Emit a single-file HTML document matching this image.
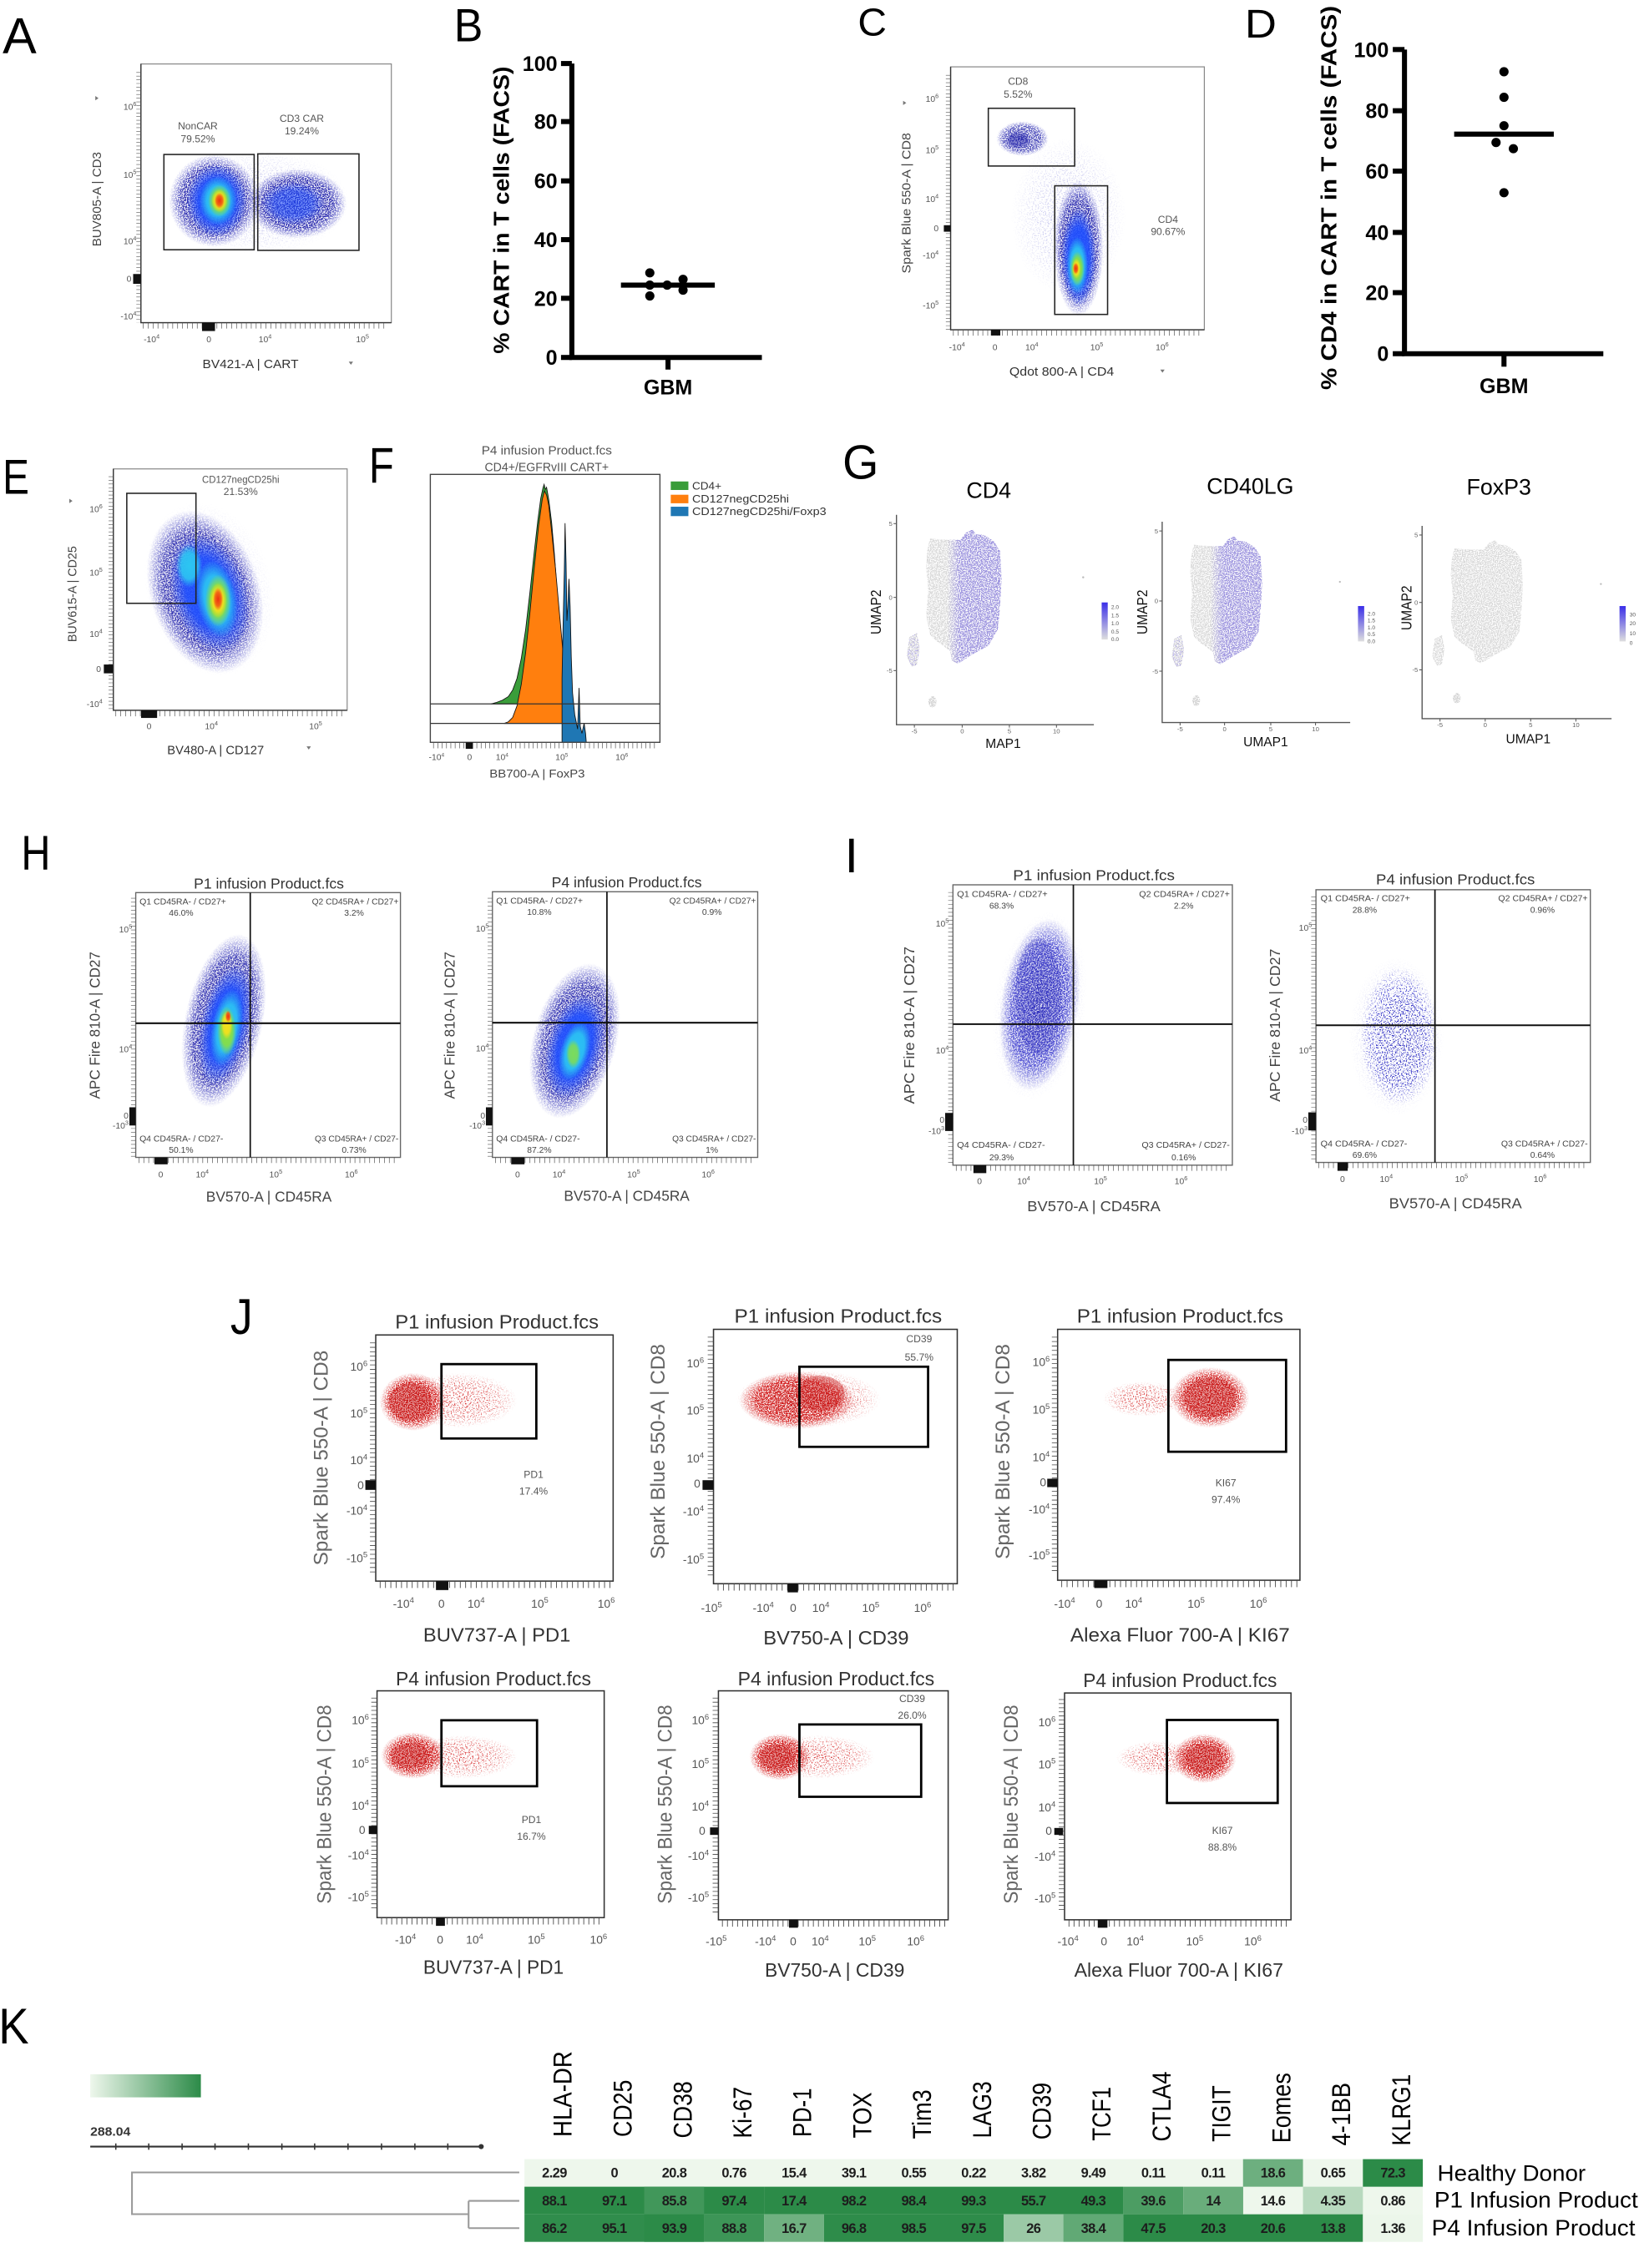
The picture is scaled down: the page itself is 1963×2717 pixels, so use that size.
<!DOCTYPE html>
<html><head><meta charset="utf-8"><title>Figure</title>
<style>
html,body{margin:0;padding:0;background:#fff;width:1963px;height:2717px;overflow:hidden}
svg{display:block}
text{font-family:"Liberation Sans",Arial,Helvetica,sans-serif}
.m{text-anchor:middle}.e{text-anchor:end}
.t{font-size:6px;fill:#555}
.t8{font-size:8px;fill:#555}
.gt{font-size:7px;fill:#555}
.q{font-size:6px;fill:#444}
.bd{font-weight:bold}
.ttl{font-size:10.4px;fill:#333}
.jt{font-size:13.5px;fill:#333}
.ax{font-size:10px;fill:#444}
.ayt{font-size:14px;fill:#666}
.ut{font-size:4.5px;fill:#666}
.cv{font-size:9.5px;font-weight:bold;fill:#1d1d1d;text-anchor:middle;letter-spacing:-0.35px}
.ch{font-size:18px;fill:#000}
</style></head><body>
<svg xmlns="http://www.w3.org/2000/svg" xmlns:xlink="http://www.w3.org/1999/xlink" width="1963" height="2717" viewBox="0 0 1135 1571" preserveAspectRatio="none">
<defs>
<filter id="sp" x="-10%" y="-10%" width="120%" height="120%" color-interpolation-filters="sRGB">
<feTurbulence type="fractalNoise" baseFrequency="1.3" numOctaves="1" seed="4" result="n"/>
<feColorMatrix in="n" type="matrix" values="0 0 0 0 0  0 0 0 0 0  0 0 0 0 0  0 0 0 8 -3.4" result="k"/>
<feComposite in="SourceGraphic" in2="k" operator="in"/>
</filter>
<filter id="sp2" x="-10%" y="-10%" width="120%" height="120%" color-interpolation-filters="sRGB">
<feTurbulence type="fractalNoise" baseFrequency="1.2" numOctaves="1" seed="9" result="n"/>
<feColorMatrix in="n" type="matrix" values="0 0 0 0 0  0 0 0 0 0  0 0 0 0 0  0 0 0 8 -4.3" result="k"/>
<feComposite in="SourceGraphic" in2="k" operator="in"/>
</filter>
<radialGradient id="gDB"><stop offset="0" stop-color="#1a1aa6"/><stop offset="0.72" stop-color="#1c1ca8" stop-opacity="0.9"/><stop offset="1" stop-color="#2a2ac0" stop-opacity="0"/></radialGradient>
<radialGradient id="gB"><stop offset="0" stop-color="#1f4fff"/><stop offset="0.6" stop-color="#1f4fff" stop-opacity="0.9"/><stop offset="1" stop-color="#1f4fff" stop-opacity="0"/></radialGradient>
<radialGradient id="gC"><stop offset="0" stop-color="#2cc6f2"/><stop offset="0.6" stop-color="#2cc6f2" stop-opacity="0.9"/><stop offset="1" stop-color="#2cc6f2" stop-opacity="0"/></radialGradient>
<radialGradient id="gG"><stop offset="0" stop-color="#8ae040"/><stop offset="0.6" stop-color="#8ae040" stop-opacity="0.9"/><stop offset="1" stop-color="#8ae040" stop-opacity="0"/></radialGradient>
<radialGradient id="gY"><stop offset="0" stop-color="#f6e01c"/><stop offset="0.6" stop-color="#f6e01c" stop-opacity="0.9"/><stop offset="1" stop-color="#f6e01c" stop-opacity="0"/></radialGradient>
<radialGradient id="gR"><stop offset="0" stop-color="#ee3010"/><stop offset="0.6" stop-color="#f25a14" stop-opacity="0.9"/><stop offset="1" stop-color="#f25a14" stop-opacity="0"/></radialGradient>
<radialGradient id="gRed"><stop offset="0" stop-color="#c81414"/><stop offset="0.7" stop-color="#d21c1c"/><stop offset="1" stop-color="#d82828" stop-opacity="0"/></radialGradient>
<radialGradient id="gPB"><stop offset="0" stop-color="#2424b8"/><stop offset="0.7" stop-color="#3434cc" stop-opacity="0.9"/><stop offset="1" stop-color="#3434cc" stop-opacity="0"/></radialGradient>
<radialGradient id="gSB"><stop offset="0" stop-color="#3030c0" stop-opacity="0.8"/><stop offset="0.65" stop-color="#3030c0" stop-opacity="0.35"/><stop offset="1" stop-color="#3030c0" stop-opacity="0"/></radialGradient>
<radialGradient id="gSR"><stop offset="0" stop-color="#d42020" stop-opacity="0.95"/><stop offset="0.65" stop-color="#d42020" stop-opacity="0.6"/><stop offset="1" stop-color="#d42020" stop-opacity="0"/></radialGradient>
<linearGradient id="lgP" x1="0" y1="0" x2="1" y2="0"><stop offset="0" stop-color="#6a5ae6" stop-opacity="0"/><stop offset="0.22" stop-color="#6a5ae6"/><stop offset="1" stop-color="#6a5ae6"/></linearGradient>
<linearGradient id="lgCB" x1="0" y1="0" x2="0" y2="1"><stop offset="0" stop-color="#3a2ee8"/><stop offset="1" stop-color="#dedede"/></linearGradient>
<linearGradient id="lgK" x1="0" y1="0" x2="1" y2="0"><stop offset="0" stop-color="#eef7ec"/><stop offset="1" stop-color="#2c8b48"/></linearGradient>
<path id="blob" d="M643.9,373 L654.5,373.9 665.2,373.9 668.8,369.1 673.4,366.6 675.9,370.1 681.2,370.5 688.3,374.9 692.5,381.6 693.6,400.9 692.5,420.2 691.1,435.6 684.7,447.1 674.1,452.9 663.4,459.7 659.2,457.7 658.1,451 652.8,447.1 647.4,443.3 643.9,439.4 641.4,426 642.8,408.6 641.4,393.2 642.1,381.6Z M629.7,441.4 L635,438.5 636.8,449.1 635,460.6 631.5,461.6 627.9,454.9Z"/>
<clipPath id="cb" clipPathUnits="userSpaceOnUse"><use xlink:href="#blob"/></clipPath>
<g id="um1">
<use xlink:href="#blob" fill="#cfcfcf" filter="url(#sp)" opacity="0.8"/>
<ellipse cx="645.7" cy="486.1" rx="2.8" ry="3.9" fill="#cfcfcf" filter="url(#sp)"/>
<circle cx="750.1" cy="399.9" r="0.7" fill="#bbb"/>
</g>
<g id="pur" clip-path="url(#cb)">
<rect x="656" y="362" width="40" height="100" fill="url(#lgP)" filter="url(#sp)" opacity="0.55"/>
<rect x="626" y="436" width="12" height="28" fill="#7a6ae8" filter="url(#sp2)" opacity="0.5"/>
</g>
</defs>
<rect width="1135" height="1571" fill="#fff"/>

<!-- ================= A ================= -->
<text x="1.8" y="36.6" font-size="35" textLength="23.5" lengthAdjust="spacingAndGlyphs">A</text>
<g>
<ellipse cx="180" cy="140" rx="62" ry="36" fill="url(#gSB)" opacity="0.5" filter="url(#sp2)"/>
<ellipse cx="206" cy="141" rx="34" ry="24" fill="url(#gDB)" filter="url(#sp)"/>
<ellipse cx="203" cy="141" rx="22" ry="15" fill="url(#gB)" opacity="0.6"/>
<ellipse cx="148" cy="139" rx="31" ry="32" fill="url(#gDB)" filter="url(#sp)"/>
<ellipse cx="150" cy="139" rx="21" ry="25" fill="url(#gB)"/>
<ellipse cx="151" cy="139" rx="13" ry="17" fill="url(#gC)"/>
<ellipse cx="152" cy="139" rx="8" ry="11" fill="url(#gG)"/>
<ellipse cx="152" cy="139" rx="5.5" ry="8" fill="url(#gY)"/>
<ellipse cx="152" cy="139" rx="3.5" ry="5.5" fill="url(#gR)"/>
</g>
<rect x="97.6" y="44.3" width="173.4" height="179.2" fill="none" stroke="#888" stroke-width="0.7"/>
<path d="M97.6,44.3 V223.5 H271" fill="none" stroke="#333" stroke-width="0.8"/>
<line x1="96" y1="50" x2="96" y2="223.5" stroke="#555" stroke-width="3.2" stroke-dasharray="0.35 2.2"/>
<line x1="99" y1="225.6" x2="268" y2="225.6" stroke="#555" stroke-width="4" stroke-dasharray="0.4 3"/>
<rect x="92.2" y="189.8" width="5.4" height="6.8" fill="#111"/>
<rect x="139.9" y="223.5" width="9" height="5.8" fill="#111"/>
<rect x="113.5" y="107" width="62.5" height="66" fill="none" stroke="#222" stroke-width="0.9"/>
<rect x="178.5" y="106.6" width="70.1" height="66.8" fill="none" stroke="#222" stroke-width="0.9"/>
<text class="gt m" x="137" y="89.5">NonCAR</text>
<text class="gt m" x="137" y="98.5">79.52%</text>
<text class="gt m" x="209" y="84.5">CD3 CAR</text>
<text class="gt m" x="209" y="93">19.24%</text>
<text class="t e" x="94.5" y="76.1">10<tspan dy="-2.6" font-size="4.2">6</tspan></text>
<text class="t e" x="94.5" y="123.1">10<tspan dy="-2.6" font-size="4.2">5</tspan></text>
<text class="t e" x="94.5" y="169.1">10<tspan dy="-2.6" font-size="4.2">4</tspan></text>
<text class="t e" x="91" y="195.1">0</text>
<text class="t e" x="94.5" y="221.1">-10<tspan dy="-2.6" font-size="4.2">4</tspan></text>
<text class="t m" x="105" y="237.1">-10<tspan dy="-2.6" font-size="4.2">4</tspan></text>
<text class="t m" x="144.6" y="237.1">0</text>
<text class="t m" x="183.6" y="237.1">10<tspan dy="-2.6" font-size="4.2">4</tspan></text>
<text class="t m" x="251" y="237.1">10<tspan dy="-2.6" font-size="4.2">5</tspan></text>
<text class="m" x="173.5" y="255" font-size="8.8" fill="#333" textLength="66.5" lengthAdjust="spacingAndGlyphs">BV421-A | CART</text>
<polygon points="241.5,250.5 244.5,250.5 243,252.7" fill="#777"/>
<text class="m" transform="translate(70,138) rotate(-90)" font-size="8.5" fill="#444" textLength="65.5" lengthAdjust="spacingAndGlyphs">BUV805-A | CD3</text>
<polygon points="66,66.5 66,69.5 68.2,68" fill="#777"/>

<!-- ================= B ================= -->
<text x="314.4" y="28.5" font-size="32" textLength="20" lengthAdjust="spacingAndGlyphs">B</text>
<path d="M396,44 V247.6 H527.6" fill="none" stroke="#000" stroke-width="3.5"/>
<g stroke="#000" stroke-width="3.5">
<line x1="388.5" y1="44" x2="396" y2="44"/><line x1="388.5" y1="84.2" x2="396" y2="84.2"/><line x1="388.5" y1="125.3" x2="396" y2="125.3"/><line x1="388.5" y1="166" x2="396" y2="166"/><line x1="388.5" y1="206.6" x2="396" y2="206.6"/><line x1="388.5" y1="247.6" x2="396" y2="247.6"/>
<line x1="462.6" y1="247.6" x2="462.6" y2="256"/>
<line x1="430" y1="197.5" x2="495" y2="197.5"/>
</g>
<g class="bd" font-size="14.5" text-anchor="end">
<text x="386" y="49.2">100</text><text x="386" y="89.4">80</text><text x="386" y="130.5">60</text><text x="386" y="171.2">40</text><text x="386" y="211.8">20</text><text x="386" y="252.8">0</text>
</g>
<text class="bd m" x="462.6" y="273.2" font-size="14.5">GBM</text>
<text class="bd m" transform="translate(352.4,145.5) rotate(-90)" font-size="15" textLength="199" lengthAdjust="spacingAndGlyphs">% CART in T cells (FACS)</text>
<g fill="#000"><circle cx="450" cy="189" r="3.2"/><circle cx="450" cy="197.5" r="3.2"/><circle cx="450" cy="205" r="3.2"/><circle cx="462" cy="197.5" r="3.2"/><circle cx="473" cy="193.5" r="3.2"/><circle cx="473" cy="201" r="3.2"/></g>

<!-- ================= C ================= -->
<text x="594" y="24.5" font-size="27" textLength="20" lengthAdjust="spacingAndGlyphs">C</text>
<g>
<ellipse cx="740" cy="150" rx="40" ry="55" fill="url(#gSB)" opacity="0.45" filter="url(#sp2)"/>
<ellipse cx="708" cy="96" rx="18" ry="12" fill="url(#gDB)" filter="url(#sp)" opacity="0.85"/>
<ellipse cx="705" cy="97" rx="9" ry="6" fill="url(#gDB)" opacity="0.5"/>
<ellipse cx="747" cy="172" rx="17" ry="47" fill="url(#gDB)" filter="url(#sp)"/>
<ellipse cx="747" cy="178" rx="12" ry="34" fill="url(#gB)"/>
<ellipse cx="746" cy="184" rx="7.5" ry="20" fill="url(#gC)"/>
<ellipse cx="746" cy="186" rx="5" ry="12" fill="url(#gG)"/>
<ellipse cx="745.5" cy="186" rx="3" ry="7" fill="url(#gY)"/>
<ellipse cx="745" cy="186" rx="2" ry="4" fill="url(#gR)"/>
</g>
<rect x="658.3" y="46.3" width="175.7" height="182.1" fill="none" stroke="#888" stroke-width="0.7"/>
<path d="M658.3,46.3 V228.4 H834" fill="none" stroke="#333" stroke-width="0.8"/>
<line x1="656.6" y1="52" x2="656.6" y2="228.4" stroke="#555" stroke-width="3.2" stroke-dasharray="0.35 2.2"/>
<line x1="660" y1="230.5" x2="832" y2="230.5" stroke="#555" stroke-width="4" stroke-dasharray="0.4 3"/>
<rect x="653.6" y="156" width="4.7" height="4.5" fill="#111"/>
<rect x="686.2" y="228.4" width="6.5" height="4" fill="#111"/>
<rect x="684.4" y="75" width="59.8" height="40" fill="none" stroke="#222" stroke-width="0.9"/>
<rect x="730.4" y="128.7" width="36.6" height="89.1" fill="none" stroke="#222" stroke-width="0.9"/>
<text class="gt m" x="705" y="58.8">CD8</text>
<text class="gt m" x="705" y="67.8">5.52%</text>
<text class="gt m" x="808.8" y="154.3">CD4</text>
<text class="gt m" x="808.8" y="162.8">90.67%</text>
<text class="t e" x="650" y="70.5">10<tspan dy="-2.6" font-size="4.2">6</tspan></text>
<text class="t e" x="650" y="106.1">10<tspan dy="-2.6" font-size="4.2">5</tspan></text>
<text class="t e" x="650" y="139.9">10<tspan dy="-2.6" font-size="4.2">4</tspan></text>
<text class="t e" x="650" y="160.1">0</text>
<text class="t e" x="650" y="179.1">-10<tspan dy="-2.6" font-size="4.2">4</tspan></text>
<text class="t e" x="650" y="213.7">-10<tspan dy="-2.6" font-size="4.2">5</tspan></text>
<text class="t m" x="662.7" y="242.6">-10<tspan dy="-2.6" font-size="4.2">4</tspan></text>
<text class="t m" x="689" y="242.6">0</text>
<text class="t m" x="714.5" y="242.6">10<tspan dy="-2.6" font-size="4.2">4</tspan></text>
<text class="t m" x="759.5" y="242.6">10<tspan dy="-2.6" font-size="4.2">5</tspan></text>
<text class="t m" x="804.8" y="242.6">10<tspan dy="-2.6" font-size="4.2">6</tspan></text>
<text class="m" x="735.2" y="260.3" font-size="8.8" fill="#333" textLength="72.5" lengthAdjust="spacingAndGlyphs">Qdot 800-A | CD4</text>
<polygon points="803.5,256 806.5,256 805,258.2" fill="#777"/>
<text class="m" transform="translate(630.5,140.7) rotate(-90)" font-size="8.5" fill="#444" textLength="97.3" lengthAdjust="spacingAndGlyphs">Spark Blue 550-A | CD8</text>
<polygon points="625.4,69.8 625.4,72.8 627.6,71.3" fill="#777"/>

<!-- ================= D ================= -->
<text x="862" y="26" font-size="28" textLength="22" lengthAdjust="spacingAndGlyphs">D</text>
<path d="M972.6,34.3 V245 H1110.3" fill="none" stroke="#000" stroke-width="3.5"/>
<g stroke="#000" stroke-width="3.5">
<line x1="964.5" y1="34.3" x2="972.6" y2="34.3"/><line x1="964.5" y1="76.7" x2="972.6" y2="76.7"/><line x1="964.5" y1="118.5" x2="972.6" y2="118.5"/><line x1="964.5" y1="161" x2="972.6" y2="161"/><line x1="964.5" y1="202.7" x2="972.6" y2="202.7"/><line x1="964.5" y1="245" x2="972.6" y2="245"/>
<line x1="1041.5" y1="245" x2="1041.5" y2="254"/>
<line x1="1007" y1="92.9" x2="1076" y2="92.9"/>
</g>
<g class="bd" font-size="14.5" text-anchor="end">
<text x="961.7" y="39.5">100</text><text x="961.7" y="81.9">80</text><text x="961.7" y="123.7">60</text><text x="961.7" y="166.2">40</text><text x="961.7" y="207.9">20</text><text x="961.7" y="250.2">0</text>
</g>
<text class="bd m" x="1041.5" y="272.2" font-size="14.5">GBM</text>
<text class="bd m" transform="translate(925.4,137) rotate(-90)" font-size="15" textLength="266" lengthAdjust="spacingAndGlyphs">% CD4 in CART in T cells (FACS)</text>
<g fill="#000"><circle cx="1041.5" cy="49.7" r="3.2"/><circle cx="1041.5" cy="67.4" r="3.2"/><circle cx="1041.5" cy="87.1" r="3.2"/><circle cx="1036" cy="98.7" r="3.2"/><circle cx="1048" cy="103" r="3.2"/><circle cx="1041.5" cy="133.5" r="3.2"/></g>

<!-- ================= E ================= -->
<text x="1.8" y="342.1" font-size="34" textLength="18.4" lengthAdjust="spacingAndGlyphs">E</text>
<g>
<ellipse cx="145" cy="408" rx="44" ry="62" transform="rotate(-15 145 408)" fill="url(#gSB)" opacity="0.4" filter="url(#sp2)"/>
<ellipse cx="142" cy="410" rx="38" ry="58" transform="rotate(-18 142 410)" fill="url(#gDB)" filter="url(#sp)"/>
<ellipse cx="145" cy="411" rx="26" ry="42" transform="rotate(-18 145 411)" fill="url(#gB)"/>
<ellipse cx="131" cy="392" rx="9" ry="15" fill="url(#gC)"/>
<ellipse cx="150" cy="415" rx="14" ry="27" transform="rotate(-10 150 415)" fill="url(#gC)"/>
<ellipse cx="151" cy="416" rx="9" ry="18" fill="url(#gG)"/>
<ellipse cx="151" cy="416" rx="6" ry="12" fill="url(#gY)"/>
<ellipse cx="151" cy="415" rx="3.5" ry="8" fill="url(#gR)"/>
</g>
<rect x="78.5" y="324.8" width="161.9" height="167.2" fill="none" stroke="#888" stroke-width="0.7"/>
<path d="M78.5,324.8 V492 H240.4" fill="none" stroke="#333" stroke-width="0.8"/>
<line x1="76.8" y1="330" x2="76.8" y2="492" stroke="#555" stroke-width="3.2" stroke-dasharray="0.35 2.2"/>
<line x1="80" y1="494.2" x2="238" y2="494.2" stroke="#555" stroke-width="4" stroke-dasharray="0.4 3"/>
<rect x="71.9" y="460.3" width="6.3" height="6.1" fill="#111"/>
<rect x="97.7" y="492" width="11.1" height="5.3" fill="#111"/>
<rect x="87.8" y="341.7" width="47.9" height="76.2" fill="none" stroke="#222" stroke-width="0.9"/>
<text class="gt m" x="166.7" y="334.4" textLength="53.5" lengthAdjust="spacingAndGlyphs">CD127negCD25hi</text>
<text class="gt m" x="166.7" y="342.9">21.53%</text>
<text class="t e" x="71" y="354.8">10<tspan dy="-2.6" font-size="4.2">6</tspan></text>
<text class="t e" x="71" y="398.6">10<tspan dy="-2.6" font-size="4.2">5</tspan></text>
<text class="t e" x="71" y="441.1">10<tspan dy="-2.6" font-size="4.2">4</tspan></text>
<text class="t e" x="70" y="465.6">0</text>
<text class="t e" x="71" y="489.7">-10<tspan dy="-2.6" font-size="4.2">4</tspan></text>
<text class="t m" x="103.2" y="505.1">0</text>
<text class="t m" x="146.4" y="505.1">10<tspan dy="-2.6" font-size="4.2">4</tspan></text>
<text class="t m" x="218.6" y="505.1">10<tspan dy="-2.6" font-size="4.2">5</tspan></text>
<text class="m" x="149.3" y="522.4" font-size="8.8" fill="#333" textLength="67" lengthAdjust="spacingAndGlyphs">BV480-A | CD127</text>
<polygon points="212.3,517 215.3,517 213.8,519.2" fill="#777"/>
<text class="m" transform="translate(52.8,411.5) rotate(-90)" font-size="8.5" fill="#444" textLength="66.5" lengthAdjust="spacingAndGlyphs">BUV615-A | CD25</text>
<polygon points="48,345.5 48,348.5 50.2,347" fill="#777"/>

<!-- ================= F ================= -->
<text x="255.5" y="334.5" font-size="35" textLength="17.3" lengthAdjust="spacingAndGlyphs">F</text>
<text class="m" x="378.6" y="314.8" font-size="8.8" fill="#555" textLength="90.3" lengthAdjust="spacingAndGlyphs">P4 infusion Product.fcs</text>
<text class="m" x="378.6" y="326.3" font-size="8.8" fill="#555" textLength="85.9" lengthAdjust="spacingAndGlyphs">CD4+/EGFRvIII CART+</text>
<path d="M340,487.6 L344,486.5 348,485 352,482.5 355,478 358,470 361,456 364,436 367,410 370,382 372.5,360 374.5,345 376,338 376.8,335.5 377.6,339 378.5,337.5 380,346 382,362 384,385 386.5,420 389,460 390,487.6 Z" fill="#3a9d3a" stroke="#111" stroke-width="0.5"/>
<path d="M349,501.1 L352,500 355,497 358,489 361,474 364,452 367,424 370,393 373,364 375.5,346 377,340 378.5,343 380,350 382,368 384.5,392 387,420 389.7,450 389.7,501.1 Z" fill="#ff7f0e" stroke="#111" stroke-width="0.5"/>
<path d="M389.2,514.2 L389.2,470 390,430 390.8,395 391.3,362.4 392,390 392.6,430 393.2,420 394,401 394.8,420 395.6,455 396.5,480 398,495 400,505 401,476.5 401.8,503 403,508 404.5,501 405.5,508 406,514.2 Z" fill="#1f77b4" stroke="#111" stroke-width="0.5"/>
<rect x="298" y="328.6" width="159" height="185.6" fill="none" stroke="#444" stroke-width="0.8"/>
<line x1="298" y1="487.6" x2="457" y2="487.6" stroke="#333" stroke-width="0.7"/>
<line x1="298" y1="501.1" x2="457" y2="501.1" stroke="#333" stroke-width="0.7"/>
<line x1="300" y1="516.4" x2="455" y2="516.4" stroke="#555" stroke-width="4" stroke-dasharray="0.4 2.6"/>
<rect x="322.5" y="514.2" width="5" height="4.5" fill="#111"/>
<rect x="464.5" y="333.5" width="12.2" height="5.9" fill="#3a9d3a"/>
<rect x="464.5" y="342.7" width="12.2" height="5.9" fill="#ff7f0e"/>
<rect x="464.5" y="351" width="12.2" height="6.5" fill="#1f77b4"/>
<text x="479.3" y="339" font-size="7.5" fill="#333" textLength="20.3" lengthAdjust="spacingAndGlyphs">CD4+</text>
<text x="479.3" y="348" font-size="7.5" fill="#333" textLength="67.1" lengthAdjust="spacingAndGlyphs">CD127negCD25hi</text>
<text x="479.3" y="356.7" font-size="7.5" fill="#333" textLength="92.9" lengthAdjust="spacingAndGlyphs">CD127negCD25hi/Foxp3</text>
<g class="t" font-size="5.5" text-anchor="middle">
<text x="302.3" y="526.5">-10<tspan dy="-2.4" font-size="3.8">4</tspan></text>
<text x="325.2" y="526.5">0</text>
<text x="347.7" y="526.5">10<tspan dy="-2.4" font-size="3.8">4</tspan></text>
<text x="389" y="526.5">10<tspan dy="-2.4" font-size="3.8">5</tspan></text>
<text x="430.6" y="526.5">10<tspan dy="-2.4" font-size="3.8">6</tspan></text>
</g>
<text class="m" x="372" y="538.5" font-size="8" fill="#444" textLength="66" lengthAdjust="spacingAndGlyphs">BB700-A | FoxP3</text>

<!-- ================= G ================= -->
<text x="583.5" y="331.5" font-size="33" textLength="25" lengthAdjust="spacingAndGlyphs">G</text>
<text class="m" x="684.7" y="344.8" font-size="15.5">CD4</text>
<text class="m" x="865.8" y="341.9" font-size="15.5">CD40LG</text>
<text class="m" x="1038" y="342.5" font-size="15.5">FoxP3</text>
<!-- plot 1 -->
<use xlink:href="#um1"/>
<use xlink:href="#pur"/>
<path d="M620.8,356.6 V502 H757.5" fill="none" stroke="#555" stroke-width="0.8"/>
<g stroke="#555" stroke-width="0.6"><line x1="618.8" y1="362.7" x2="620.8" y2="362.7"/><line x1="618.8" y1="413.8" x2="620.8" y2="413.8"/><line x1="618.8" y1="464.5" x2="620.8" y2="464.5"/><line x1="633.2" y1="502" x2="633.2" y2="504"/><line x1="666.3" y1="502" x2="666.3" y2="504"/><line x1="699" y1="502" x2="699" y2="504"/><line x1="731.6" y1="502" x2="731.6" y2="504"/></g>
<text class="ut e" x="618" y="364.3">5</text><text class="ut e" x="618" y="415.4">0</text><text class="ut e" x="618" y="466.1">-5</text>
<text class="ut m" x="633.2" y="508">-5</text><text class="ut m" x="666.3" y="508">0</text><text class="ut m" x="699" y="508">5</text><text class="ut m" x="731.6" y="508">10</text>
<text class="m" x="694.7" y="518.2" font-size="9" fill="#111">MAP1</text>
<text class="m" transform="translate(610,424) rotate(-90)" font-size="10" fill="#111" textLength="31" lengthAdjust="spacingAndGlyphs">UMAP2</text>
<rect x="762.9" y="417.3" width="4.2" height="25.7" fill="url(#lgCB)"/>
<g font-size="3.8" fill="#555"><text x="769.5" y="421.9">2.0</text><text x="769.5" y="427.6">1.5</text><text x="769.5" y="433">1.0</text><text x="769.5" y="438.8">0.5</text><text x="769.5" y="444.2">0.0</text></g>
<!-- plot 2 -->
<use xlink:href="#um1" transform="translate(848,416.3) scale(0.953,0.954) translate(-666.3,-413.8)"/>
<use xlink:href="#pur" transform="translate(848,416.3) scale(0.953,0.954) translate(-666.3,-413.8)"/>
<path d="M804.8,361.4 V500.5 H935" fill="none" stroke="#555" stroke-width="0.8"/>
<g stroke="#555" stroke-width="0.6"><line x1="802.8" y1="367.8" x2="804.8" y2="367.8"/><line x1="802.8" y1="416.3" x2="804.8" y2="416.3"/><line x1="802.8" y1="464.9" x2="804.8" y2="464.9"/><line x1="817.2" y1="500.5" x2="817.2" y2="502.5"/><line x1="848" y1="500.5" x2="848" y2="502.5"/><line x1="880" y1="500.5" x2="880" y2="502.5"/><line x1="911" y1="500.5" x2="911" y2="502.5"/></g>
<text class="ut e" x="802" y="369.4">5</text><text class="ut e" x="802" y="417.9">0</text><text class="ut e" x="802" y="466.5">-5</text>
<text class="ut m" x="817.2" y="506.5">-5</text><text class="ut m" x="848" y="506.5">0</text><text class="ut m" x="880" y="506.5">5</text><text class="ut m" x="911" y="506.5">10</text>
<text class="m" x="876.5" y="516.8" font-size="9" fill="#111">UMAP1</text>
<text class="m" transform="translate(794.5,424) rotate(-90)" font-size="10" fill="#111" textLength="31" lengthAdjust="spacingAndGlyphs">UMAP2</text>
<rect x="940.4" y="419.8" width="4.3" height="24.5" fill="url(#lgCB)"/>
<g font-size="3.8" fill="#555"><text x="947" y="426.3">2.0</text><text x="947" y="431.1">1.5</text><text x="947" y="435.9">1.0</text><text x="947" y="440.7">0.5</text><text x="947" y="445.6">0.0</text></g>
<!-- plot 3 -->
<use xlink:href="#um1" transform="translate(1028.5,417.3) scale(0.956,0.917) translate(-666.3,-413.8)"/>
<path d="M984.8,364.3 V497.8 H1116" fill="none" stroke="#555" stroke-width="0.8"/>
<g stroke="#555" stroke-width="0.6"><line x1="982.8" y1="370.6" x2="984.8" y2="370.6"/><line x1="982.8" y1="417.3" x2="984.8" y2="417.3"/><line x1="982.8" y1="464" x2="984.8" y2="464"/><line x1="997.2" y1="497.8" x2="997.2" y2="499.8"/><line x1="1028.5" y1="497.8" x2="1028.5" y2="499.8"/><line x1="1060" y1="497.8" x2="1060" y2="499.8"/><line x1="1091.3" y1="497.8" x2="1091.3" y2="499.8"/></g>
<text class="ut e" x="982" y="372.2">5</text><text class="ut e" x="982" y="418.9">0</text><text class="ut e" x="982" y="465.6">-5</text>
<text class="ut m" x="997.2" y="503.5">-5</text><text class="ut m" x="1028.5" y="503.5">0</text><text class="ut m" x="1060" y="503.5">5</text><text class="ut m" x="1091.3" y="503.5">10</text>
<text class="m" x="1058.3" y="514.9" font-size="9" fill="#111">UMAP1</text>
<text class="m" transform="translate(977.3,421.1) rotate(-90)" font-size="10" fill="#111" textLength="31" lengthAdjust="spacingAndGlyphs">UMAP2</text>
<rect x="1121.5" y="419.8" width="4.3" height="24.5" fill="url(#lgCB)"/>
<g font-size="3.8" fill="#555"><text x="1128.5" y="427">30</text><text x="1128.5" y="433.1">20</text><text x="1128.5" y="439.9">10</text><text x="1128.5" y="446.6">0</text></g>

<!-- ================= H ================= -->
<text x="14.7" y="602.3" font-size="34" textLength="20.3" lengthAdjust="spacingAndGlyphs">H</text>
<!-- H1 -->
<g>
<ellipse cx="155" cy="707" rx="27" ry="61" transform="rotate(12 155 707)" fill="url(#gDB)" filter="url(#sp)"/>
<ellipse cx="156" cy="710" rx="17" ry="42" transform="rotate(12 156 710)" fill="url(#gB)"/>
<ellipse cx="157" cy="712" rx="10.5" ry="27" transform="rotate(10 157 712)" fill="url(#gC)"/>
<ellipse cx="157" cy="714" rx="6.5" ry="17" fill="url(#gG)"/>
<ellipse cx="157" cy="710" rx="4" ry="10" fill="url(#gY)"/>
<ellipse cx="158" cy="704" rx="2" ry="4" fill="url(#gR)"/>
</g>
<rect x="94" y="618.3" width="183.3" height="183.4" fill="none" stroke="#666" stroke-width="0.8"/>
<line x1="92.3" y1="622" x2="92.3" y2="801.7" stroke="#555" stroke-width="3.2" stroke-dasharray="0.35 2.4"/>
<line x1="96" y1="803.6" x2="276" y2="803.6" stroke="#555" stroke-width="4" stroke-dasharray="0.4 3"/>
<rect x="89.6" y="767" width="4.4" height="12.6" fill="#111"/>
<rect x="107" y="801.7" width="9.1" height="4.8" fill="#111"/>
<line x1="173.3" y1="618.3" x2="173.3" y2="801.7" stroke="#111" stroke-width="1"/>
<line x1="94" y1="708.8" x2="277.3" y2="708.8" stroke="#111" stroke-width="1.2"/>
<text class="m ttl" x="186.2" y="615.5" textLength="104" lengthAdjust="spacingAndGlyphs">P1 infusion Product.fcs</text>
<text class="q" x="96.6" y="626.5" textLength="60" lengthAdjust="spacingAndGlyphs">Q1 CD45RA- / CD27+</text>
<text class="q m" x="125.4" y="634.2">46.0%</text>
<text class="q e" x="276" y="626.5" textLength="60" lengthAdjust="spacingAndGlyphs">Q2 CD45RA+ / CD27+</text>
<text class="q m" x="245.2" y="634.2">3.2%</text>
<text class="q" x="96.6" y="790.7" textLength="58" lengthAdjust="spacingAndGlyphs">Q4 CD45RA- / CD27-</text>
<text class="q m" x="125.4" y="798.4">50.1%</text>
<text class="q e" x="276" y="790.7" textLength="58" lengthAdjust="spacingAndGlyphs">Q3 CD45RA+ / CD27-</text>
<text class="q m" x="245.2" y="798.4">0.73%</text>
<text class="t e" x="91.5" y="645.8">10<tspan dy="-2.6" font-size="4.2">5</tspan></text>
<text class="t e" x="91.5" y="728.7">10<tspan dy="-2.6" font-size="4.2">4</tspan></text>
<text class="t e" x="89" y="774.9">0</text>
<text class="t e" x="89" y="781.7">-10<tspan dy="-2.6" font-size="4.2">3</tspan></text>
<text class="t m" x="111.3" y="815.5">0</text>
<text class="t m" x="140.1" y="815.5">10<tspan dy="-2.6" font-size="4.2">4</tspan></text>
<text class="t m" x="191" y="815.5">10<tspan dy="-2.6" font-size="4.2">5</tspan></text>
<text class="t m" x="243.3" y="815.5">10<tspan dy="-2.6" font-size="4.2">6</tspan></text>
<text class="m ax" x="186.2" y="832.2" textLength="87" lengthAdjust="spacingAndGlyphs">BV570-A | CD45RA</text>
<text class="m ax" transform="translate(69.2,710.2) rotate(-90)" font-size="10.5" textLength="102" lengthAdjust="spacingAndGlyphs">APC Fire 810-A | CD27</text>
<!-- H2 -->
<g>
<ellipse cx="398" cy="721" rx="29" ry="55" transform="rotate(15 398 721)" fill="url(#gDB)" filter="url(#sp)"/>
<ellipse cx="398" cy="725" rx="19" ry="37" transform="rotate(15 398 725)" fill="url(#gB)"/>
<ellipse cx="398" cy="728" rx="10" ry="21" transform="rotate(15 398 728)" fill="url(#gC)"/>
<ellipse cx="397" cy="730" rx="5" ry="10" fill="url(#gG)" opacity="0.85"/>
</g>
<rect x="341" y="617.7" width="183.7" height="184" fill="none" stroke="#666" stroke-width="0.8"/>
<line x1="339.3" y1="622" x2="339.3" y2="801.7" stroke="#555" stroke-width="3.2" stroke-dasharray="0.35 2.4"/>
<line x1="343" y1="803.6" x2="523" y2="803.6" stroke="#555" stroke-width="4" stroke-dasharray="0.4 3"/>
<rect x="336.5" y="767" width="4.5" height="12.6" fill="#111"/>
<rect x="354" y="801.7" width="9.2" height="4.8" fill="#111"/>
<line x1="420.3" y1="617.7" x2="420.3" y2="801.7" stroke="#111" stroke-width="1"/>
<line x1="341" y1="708.4" x2="524.7" y2="708.4" stroke="#111" stroke-width="1.2"/>
<text class="m ttl" x="434" y="614.6" textLength="104" lengthAdjust="spacingAndGlyphs">P4 infusion Product.fcs</text>
<text class="q" x="343.6" y="626" textLength="60" lengthAdjust="spacingAndGlyphs">Q1 CD45RA- / CD27+</text>
<text class="q m" x="373.5" y="633.7">10.8%</text>
<text class="q e" x="523.5" y="626" textLength="60" lengthAdjust="spacingAndGlyphs">Q2 CD45RA+ / CD27+</text>
<text class="q m" x="493" y="633.7">0.9%</text>
<text class="q" x="343.6" y="790.7" textLength="58" lengthAdjust="spacingAndGlyphs">Q4 CD45RA- / CD27-</text>
<text class="q m" x="373.5" y="798.4">87.2%</text>
<text class="q e" x="523.5" y="790.7" textLength="58" lengthAdjust="spacingAndGlyphs">Q3 CD45RA+ / CD27-</text>
<text class="q m" x="493" y="798.4">1%</text>
<text class="t e" x="338.5" y="645.4">10<tspan dy="-2.6" font-size="4.2">5</tspan></text>
<text class="t e" x="338.5" y="728.3">10<tspan dy="-2.6" font-size="4.2">4</tspan></text>
<text class="t e" x="336" y="774.9">0</text>
<text class="t e" x="336" y="781.7">-10<tspan dy="-2.6" font-size="4.2">3</tspan></text>
<text class="t m" x="358.4" y="815.5">0</text>
<text class="t m" x="387.1" y="815.5">10<tspan dy="-2.6" font-size="4.2">4</tspan></text>
<text class="t m" x="438.8" y="815.5">10<tspan dy="-2.6" font-size="4.2">5</tspan></text>
<text class="t m" x="490.4" y="815.5">10<tspan dy="-2.6" font-size="4.2">6</tspan></text>
<text class="m ax" x="434" y="831.8" textLength="87" lengthAdjust="spacingAndGlyphs">BV570-A | CD45RA</text>
<text class="m ax" transform="translate(314.8,710.2) rotate(-90)" font-size="10.5" textLength="102" lengthAdjust="spacingAndGlyphs">APC Fire 810-A | CD27</text>

<!-- ================= I ================= -->
<text x="584.9" y="604.2" font-size="34">I</text>
<!-- I1 -->
<g>
<ellipse cx="720" cy="697" rx="32" ry="66" transform="rotate(8 720 697)" fill="url(#gSB)" opacity="0.5" filter="url(#sp2)"/>
<ellipse cx="720" cy="696" rx="27" ry="60" transform="rotate(8 720 696)" fill="url(#gPB)" filter="url(#sp)"/>
<ellipse cx="719" cy="690" rx="16" ry="40" fill="#2626b8" opacity="0.4" filter="url(#sp)"/>
</g>
<rect x="659.9" y="612.9" width="193.5" height="194.2" fill="none" stroke="#666" stroke-width="0.8"/>
<line x1="658.2" y1="618" x2="658.2" y2="807.1" stroke="#555" stroke-width="3.2" stroke-dasharray="0.35 2.4"/>
<line x1="662" y1="809" x2="852" y2="809" stroke="#555" stroke-width="4" stroke-dasharray="0.4 3"/>
<rect x="654.5" y="770.9" width="5.4" height="12.5" fill="#111"/>
<rect x="674.1" y="807.1" width="8.9" height="5.5" fill="#111"/>
<line x1="743.3" y1="612.9" x2="743.3" y2="807.1" stroke="#111" stroke-width="1"/>
<line x1="659.9" y1="709.4" x2="853.4" y2="709.4" stroke="#111" stroke-width="1.2"/>
<text class="m ttl" x="757.5" y="609.7" textLength="112" lengthAdjust="spacingAndGlyphs">P1 infusion Product.fcs</text>
<text class="q" x="662.7" y="621.3" textLength="62.8" lengthAdjust="spacingAndGlyphs">Q1 CD45RA- / CD27+</text>
<text class="q m" x="693.6" y="629.4">68.3%</text>
<text class="q e" x="851.6" y="621.3" textLength="62.8" lengthAdjust="spacingAndGlyphs">Q2 CD45RA+ / CD27+</text>
<text class="q m" x="819.7" y="629.4">2.2%</text>
<text class="q" x="662.7" y="795.1" textLength="61" lengthAdjust="spacingAndGlyphs">Q4 CD45RA- / CD27-</text>
<text class="q m" x="693.6" y="803.8">29.3%</text>
<text class="q e" x="851.6" y="795.1" textLength="61" lengthAdjust="spacingAndGlyphs">Q3 CD45RA+ / CD27-</text>
<text class="q m" x="819.7" y="803.8">0.16%</text>
<text class="t e" x="657" y="641.9">10<tspan dy="-2.6" font-size="4.2">5</tspan></text>
<text class="t e" x="657" y="729.6">10<tspan dy="-2.6" font-size="4.2">4</tspan></text>
<text class="t e" x="654" y="777.8">0</text>
<text class="t e" x="654" y="785.5">-10<tspan dy="-2.6" font-size="4.2">3</tspan></text>
<text class="t m" x="678.3" y="820.1">0</text>
<text class="t m" x="708.9" y="820.1">10<tspan dy="-2.6" font-size="4.2">4</tspan></text>
<text class="t m" x="762.1" y="820.1">10<tspan dy="-2.6" font-size="4.2">5</tspan></text>
<text class="t m" x="817.9" y="820.1">10<tspan dy="-2.6" font-size="4.2">6</tspan></text>
<text class="m ax" x="757.5" y="838.9" textLength="92.3" lengthAdjust="spacingAndGlyphs">BV570-A | CD45RA</text>
<text class="m ax" transform="translate(633.2,710.2) rotate(-90)" font-size="11" textLength="109" lengthAdjust="spacingAndGlyphs">APC Fire 810-A | CD27</text>
<!-- I2 -->
<g>
<ellipse cx="967" cy="718" rx="33" ry="55" fill="url(#gSB)" opacity="0.45" filter="url(#sp2)"/>
<ellipse cx="969" cy="718" rx="27" ry="48" fill="url(#gPB)" filter="url(#sp2)"/>
<ellipse cx="970" cy="722" rx="17" ry="32" fill="#2a2ac0" opacity="0.5" filter="url(#sp2)"/>
</g>
<rect x="911.3" y="616.3" width="190" height="188.9" fill="none" stroke="#666" stroke-width="0.8"/>
<line x1="909.6" y1="621" x2="909.6" y2="805.2" stroke="#555" stroke-width="3.2" stroke-dasharray="0.35 2.4"/>
<line x1="913" y1="807.1" x2="1100" y2="807.1" stroke="#555" stroke-width="4" stroke-dasharray="0.4 3"/>
<rect x="906" y="770.5" width="5.3" height="12.5" fill="#111"/>
<rect x="926.2" y="805.2" width="7.1" height="5.8" fill="#111"/>
<line x1="993.7" y1="616.3" x2="993.7" y2="805.2" stroke="#111" stroke-width="1"/>
<line x1="911.3" y1="710.2" x2="1101.3" y2="710.2" stroke="#111" stroke-width="1.2"/>
<text class="m ttl" x="1007.9" y="612.6" textLength="110" lengthAdjust="spacingAndGlyphs">P4 infusion Product.fcs</text>
<text class="q" x="914.5" y="624.2" textLength="62" lengthAdjust="spacingAndGlyphs">Q1 CD45RA- / CD27+</text>
<text class="q m" x="945" y="632.3">28.8%</text>
<text class="q e" x="1099.5" y="624.2" textLength="62" lengthAdjust="spacingAndGlyphs">Q2 CD45RA+ / CD27+</text>
<text class="q m" x="1068.2" y="632.3">0.96%</text>
<text class="q" x="914.5" y="794.2" textLength="60" lengthAdjust="spacingAndGlyphs">Q4 CD45RA- / CD27-</text>
<text class="q m" x="945" y="801.9">69.6%</text>
<text class="q e" x="1099.5" y="794.2" textLength="60" lengthAdjust="spacingAndGlyphs">Q3 CD45RA+ / CD27-</text>
<text class="q m" x="1068.2" y="801.9">0.64%</text>
<text class="t e" x="908.5" y="644.8">10<tspan dy="-2.6" font-size="4.2">5</tspan></text>
<text class="t e" x="908.5" y="729.6">10<tspan dy="-2.6" font-size="4.2">4</tspan></text>
<text class="t e" x="905.5" y="777.8">0</text>
<text class="t e" x="905.5" y="785.5">-10<tspan dy="-2.6" font-size="4.2">3</tspan></text>
<text class="t m" x="929.7" y="818.8">0</text>
<text class="t m" x="960" y="818.8">10<tspan dy="-2.6" font-size="4.2">4</tspan></text>
<text class="t m" x="1012.1" y="818.8">10<tspan dy="-2.6" font-size="4.2">5</tspan></text>
<text class="t m" x="1066.5" y="818.8">10<tspan dy="-2.6" font-size="4.2">6</tspan></text>
<text class="m ax" x="1007.9" y="837" textLength="92" lengthAdjust="spacingAndGlyphs">BV570-A | CD45RA</text>
<text class="m ax" transform="translate(886.4,710.2) rotate(-90)" font-size="11" textLength="106" lengthAdjust="spacingAndGlyphs">APC Fire 810-A | CD27</text>

<!-- ================= J ================= -->
<text x="159.5" y="924" font-size="35" textLength="15.5" lengthAdjust="spacingAndGlyphs">J</text>
<!-- J1 -->
<g>
<ellipse cx="318" cy="970" rx="40" ry="19" fill="url(#gSR)" filter="url(#sp2)"/>
<ellipse cx="286" cy="971" rx="23" ry="20" fill="url(#gRed)" filter="url(#sp)"/>
<ellipse cx="284" cy="971" rx="15" ry="13" fill="#c41414" opacity="0.35"/>
</g>
<rect x="260.2" y="924.7" width="164.4" height="170.5" fill="none" stroke="#333" stroke-width="0.9"/>
<line x1="258.2" y1="930" x2="258.2" y2="1090" stroke="#444" stroke-width="4" stroke-dasharray="0.45 2.6"/>
<line x1="263" y1="1097.6" x2="423" y2="1097.6" stroke="#444" stroke-width="4.8" stroke-dasharray="0.5 3.2"/>
<rect x="253" y="1025.3" width="7.2" height="6.7" fill="#111"/>
<rect x="301.9" y="1095.2" width="8.6" height="6.2" fill="#111"/>
<rect x="305.7" y="944.9" width="65.7" height="51.5" fill="none" stroke="#000" stroke-width="1.6"/>
<text class="m jt" x="344.1" y="920.2" textLength="141" lengthAdjust="spacingAndGlyphs">P1 infusion Product.fcs</text>
<text class="m gt" x="369.5" y="1023.7">PD1</text>
<text class="m gt" x="369.5" y="1035.3">17.4%</text>
<text class="t8 e" x="254.5" y="949.5">10<tspan dy="-3.2" font-size="5.5">6</tspan></text>
<text class="t8 e" x="254.5" y="981.8">10<tspan dy="-3.2" font-size="5.5">5</tspan></text>
<text class="t8 e" x="254.5" y="1014.2">10<tspan dy="-3.2" font-size="5.5">4</tspan></text>
<text class="t8 e" x="252" y="1031.6">0</text>
<text class="t8 e" x="254.5" y="1049.3">-10<tspan dy="-3.2" font-size="5.5">4</tspan></text>
<text class="t8 e" x="254.5" y="1082">-10<tspan dy="-3.2" font-size="5.5">5</tspan></text>
<text class="t8 m" x="279.4" y="1113.5">-10<tspan dy="-3.2" font-size="5.5">4</tspan></text>
<text class="t8 m" x="305.7" y="1113.5">0</text>
<text class="t8 m" x="329.7" y="1113.5">10<tspan dy="-3.2" font-size="5.5">4</tspan></text>
<text class="t8 m" x="373.8" y="1113.5">10<tspan dy="-3.2" font-size="5.5">5</tspan></text>
<text class="t8 m" x="419.8" y="1113.5">10<tspan dy="-3.2" font-size="5.5">6</tspan></text>
<text class="m jt" x="344.1" y="1137" textLength="102" lengthAdjust="spacingAndGlyphs">BUV737-A | PD1</text>
<text class="m ayt" transform="translate(226.8,1009.9) rotate(-90)" textLength="149" lengthAdjust="spacingAndGlyphs">Spark Blue 550-A | CD8</text>
<!-- J2 -->
<g>
<ellipse cx="560" cy="969" rx="50" ry="20" fill="url(#gSR)" filter="url(#sp2)"/>
<ellipse cx="552" cy="970" rx="40" ry="20" fill="url(#gRed)" filter="url(#sp)"/>
<ellipse cx="568" cy="965" rx="17" ry="12" fill="#c41414" opacity="0.35"/>
</g>
<rect x="494.1" y="920.8" width="168.8" height="176.2" fill="none" stroke="#333" stroke-width="0.9"/>
<line x1="492.1" y1="926" x2="492.1" y2="1092" stroke="#444" stroke-width="4" stroke-dasharray="0.45 2.6"/>
<line x1="497" y1="1099.4" x2="661" y2="1099.4" stroke="#444" stroke-width="4.8" stroke-dasharray="0.5 3.2"/>
<rect x="486.5" y="1025.3" width="7.6" height="6.7" fill="#111"/>
<rect x="545.4" y="1097" width="7.2" height="6" fill="#111"/>
<rect x="553.6" y="946.7" width="89.1" height="55.5" fill="none" stroke="#000" stroke-width="1.6"/>
<text class="m jt" x="580.4" y="916.3" textLength="143.8" lengthAdjust="spacingAndGlyphs">P1 infusion Product.fcs</text>
<text class="m gt" x="636.5" y="929.7">CD39</text>
<text class="m gt" x="636.5" y="942.4">55.7%</text>
<text class="t8 e" x="487.5" y="947.2">10<tspan dy="-3.2" font-size="5.5">6</tspan></text>
<text class="t8 e" x="487.5" y="979.9">10<tspan dy="-3.2" font-size="5.5">5</tspan></text>
<text class="t8 e" x="487.5" y="1013.1">10<tspan dy="-3.2" font-size="5.5">4</tspan></text>
<text class="t8 e" x="485" y="1030.4">0</text>
<text class="t8 e" x="487.5" y="1049.7">-10<tspan dy="-3.2" font-size="5.5">4</tspan></text>
<text class="t8 e" x="487.5" y="1083">-10<tspan dy="-3.2" font-size="5.5">5</tspan></text>
<text class="t8 m" x="492.7" y="1116.5">-10<tspan dy="-3.2" font-size="5.5">5</tspan></text>
<text class="t8 m" x="528.6" y="1116.5">-10<tspan dy="-3.2" font-size="5.5">4</tspan></text>
<text class="t8 m" x="549.3" y="1116.5">0</text>
<text class="t8 m" x="568.4" y="1116.5">10<tspan dy="-3.2" font-size="5.5">4</tspan></text>
<text class="t8 m" x="603" y="1116.5">10<tspan dy="-3.2" font-size="5.5">5</tspan></text>
<text class="t8 m" x="638.9" y="1116.5">10<tspan dy="-3.2" font-size="5.5">6</tspan></text>
<text class="m jt" x="579" y="1139" textLength="100.7" lengthAdjust="spacingAndGlyphs">BV750-A | CD39</text>
<text class="m ayt" transform="translate(460.3,1005.5) rotate(-90)" textLength="149" lengthAdjust="spacingAndGlyphs">Spark Blue 550-A | CD8</text>
<!-- J3 -->
<g>
<ellipse cx="792" cy="969" rx="28" ry="12" fill="url(#gSR)" filter="url(#sp2)"/>
<ellipse cx="838" cy="968" rx="27" ry="21" fill="url(#gRed)" filter="url(#sp)"/>
<ellipse cx="838" cy="968" rx="18" ry="14" fill="#c41414" opacity="0.35"/>
</g>
<rect x="732.4" y="920.8" width="167.8" height="173.8" fill="none" stroke="#333" stroke-width="0.9"/>
<line x1="730.4" y1="926" x2="730.4" y2="1090" stroke="#444" stroke-width="4" stroke-dasharray="0.45 2.6"/>
<line x1="735" y1="1097" x2="899" y2="1097" stroke="#444" stroke-width="4.8" stroke-dasharray="0.5 3.2"/>
<rect x="725.2" y="1024.3" width="7.2" height="5.8" fill="#111"/>
<rect x="757.8" y="1094.6" width="9.1" height="5.4" fill="#111"/>
<rect x="809.1" y="942" width="81.5" height="63.6" fill="none" stroke="#000" stroke-width="1.6"/>
<text class="m jt" x="817.2" y="916.3" textLength="142.9" lengthAdjust="spacingAndGlyphs">P1 infusion Product.fcs</text>
<text class="m gt" x="848.9" y="1029.5">KI67</text>
<text class="m gt" x="848.9" y="1041.1">97.4%</text>
<text class="t8 e" x="727" y="946.2">10<tspan dy="-3.2" font-size="5.5">6</tspan></text>
<text class="t8 e" x="727" y="979.3">10<tspan dy="-3.2" font-size="5.5">5</tspan></text>
<text class="t8 e" x="727" y="1012.3">10<tspan dy="-3.2" font-size="5.5">4</tspan></text>
<text class="t8 e" x="724.5" y="1029.6">0</text>
<text class="t8 e" x="727" y="1048.3">-10<tspan dy="-3.2" font-size="5.5">4</tspan></text>
<text class="t8 e" x="727" y="1080.1">-10<tspan dy="-3.2" font-size="5.5">5</tspan></text>
<text class="t8 m" x="737.2" y="1113.5">-10<tspan dy="-3.2" font-size="5.5">4</tspan></text>
<text class="t8 m" x="761.2" y="1113.5">0</text>
<text class="t8 m" x="785.1" y="1113.5">10<tspan dy="-3.2" font-size="5.5">4</tspan></text>
<text class="t8 m" x="828.3" y="1113.5">10<tspan dy="-3.2" font-size="5.5">5</tspan></text>
<text class="t8 m" x="871.4" y="1113.5">10<tspan dy="-3.2" font-size="5.5">6</tspan></text>
<text class="m jt" x="817.2" y="1137" textLength="152" lengthAdjust="spacingAndGlyphs">Alexa Fluor 700-A | KI67</text>
<text class="m ayt" transform="translate(699,1005.5) rotate(-90)" textLength="149" lengthAdjust="spacingAndGlyphs">Spark Blue 550-A | CD8</text>
<!-- J4 -->
<g>
<ellipse cx="320" cy="1217" rx="38" ry="15" fill="url(#gSR)" filter="url(#sp2)"/>
<ellipse cx="286" cy="1216" rx="22" ry="16" fill="url(#gRed)" filter="url(#sp)"/>
<ellipse cx="284" cy="1216" rx="13" ry="9" fill="#c41414" opacity="0.35"/>
</g>
<rect x="261.1" y="1171.2" width="157.3" height="157.1" fill="none" stroke="#333" stroke-width="0.9"/>
<line x1="259.1" y1="1176" x2="259.1" y2="1324" stroke="#444" stroke-width="4" stroke-dasharray="0.45 2.4"/>
<line x1="264" y1="1330.7" x2="417" y2="1330.7" stroke="#444" stroke-width="4.8" stroke-dasharray="0.5 3"/>
<rect x="255.4" y="1264.7" width="5.7" height="5.7" fill="#111"/>
<rect x="301.9" y="1328.3" width="6.2" height="5.7" fill="#111"/>
<rect x="305.7" y="1191.6" width="66.2" height="45.7" fill="none" stroke="#000" stroke-width="1.6"/>
<text class="m jt" x="341.7" y="1167.4" textLength="135.2" lengthAdjust="spacingAndGlyphs">P4 infusion Product.fcs</text>
<text class="m gt" x="368" y="1262.7">PD1</text>
<text class="m gt" x="368" y="1274.3">16.7%</text>
<text class="t8 e" x="255.5" y="1194.4">10<tspan dy="-3.2" font-size="5.5">6</tspan></text>
<text class="t8 e" x="255.5" y="1224.3">10<tspan dy="-3.2" font-size="5.5">5</tspan></text>
<text class="t8 e" x="255.5" y="1253.6">10<tspan dy="-3.2" font-size="5.5">4</tspan></text>
<text class="t8 e" x="253" y="1270.3">0</text>
<text class="t8 e" x="255.5" y="1287.9">-10<tspan dy="-3.2" font-size="5.5">4</tspan></text>
<text class="t8 e" x="255.5" y="1316.8">-10<tspan dy="-3.2" font-size="5.5">5</tspan></text>
<text class="t8 m" x="280.8" y="1346.5">-10<tspan dy="-3.2" font-size="5.5">4</tspan></text>
<text class="t8 m" x="304.8" y="1346.5">0</text>
<text class="t8 m" x="328.7" y="1346.5">10<tspan dy="-3.2" font-size="5.5">4</tspan></text>
<text class="t8 m" x="371.4" y="1346.5">10<tspan dy="-3.2" font-size="5.5">5</tspan></text>
<text class="t8 m" x="414.5" y="1346.5">10<tspan dy="-3.2" font-size="5.5">6</tspan></text>
<text class="m jt" x="341.7" y="1367.3" textLength="97.3" lengthAdjust="spacingAndGlyphs">BUV737-A | PD1</text>
<text class="m ayt" transform="translate(229.2,1249.8) rotate(-90)" textLength="137.8" lengthAdjust="spacingAndGlyphs">Spark Blue 550-A | CD8</text>
<!-- J5 -->
<g>
<ellipse cx="566" cy="1217" rx="40" ry="15" fill="url(#gSR)" filter="url(#sp2)"/>
<ellipse cx="540" cy="1217" rx="21" ry="16" fill="url(#gRed)" filter="url(#sp)"/>
<ellipse cx="538" cy="1217" rx="12" ry="9" fill="#c41414" opacity="0.35"/>
</g>
<rect x="497.5" y="1171.2" width="159.1" height="158.6" fill="none" stroke="#333" stroke-width="0.9"/>
<line x1="495.5" y1="1176" x2="495.5" y2="1325" stroke="#444" stroke-width="4" stroke-dasharray="0.45 2.4"/>
<line x1="500" y1="1332.2" x2="655" y2="1332.2" stroke="#444" stroke-width="4.8" stroke-dasharray="0.5 3"/>
<rect x="491.7" y="1265.8" width="5.8" height="5.2" fill="#111"/>
<rect x="546.4" y="1329.8" width="6.2" height="5.5" fill="#111"/>
<rect x="553.6" y="1194.5" width="84.3" height="50.1" fill="none" stroke="#000" stroke-width="1.6"/>
<text class="m jt" x="579" y="1167.4" textLength="136.2" lengthAdjust="spacingAndGlyphs">P4 infusion Product.fcs</text>
<text class="m gt" x="631.7" y="1178.9">CD39</text>
<text class="m gt" x="631.7" y="1190.5">26.0%</text>
<text class="t8 e" x="491" y="1194.4">10<tspan dy="-3.2" font-size="5.5">6</tspan></text>
<text class="t8 e" x="491" y="1224.7">10<tspan dy="-3.2" font-size="5.5">5</tspan></text>
<text class="t8 e" x="491" y="1254.2">10<tspan dy="-3.2" font-size="5.5">4</tspan></text>
<text class="t8 e" x="488.5" y="1270.9">0</text>
<text class="t8 e" x="491" y="1288.3">-10<tspan dy="-3.2" font-size="5.5">4</tspan></text>
<text class="t8 e" x="491" y="1317.2">-10<tspan dy="-3.2" font-size="5.5">5</tspan></text>
<text class="t8 m" x="496" y="1347.5">-10<tspan dy="-3.2" font-size="5.5">5</tspan></text>
<text class="t8 m" x="530.1" y="1347.5">-10<tspan dy="-3.2" font-size="5.5">4</tspan></text>
<text class="t8 m" x="549.3" y="1347.5">0</text>
<text class="t8 m" x="568" y="1347.5">10<tspan dy="-3.2" font-size="5.5">4</tspan></text>
<text class="t8 m" x="600.6" y="1347.5">10<tspan dy="-3.2" font-size="5.5">5</tspan></text>
<text class="t8 m" x="634.1" y="1347.5">10<tspan dy="-3.2" font-size="5.5">6</tspan></text>
<text class="m jt" x="578" y="1369.3" textLength="96.8" lengthAdjust="spacingAndGlyphs">BV750-A | CD39</text>
<text class="m ayt" transform="translate(465.1,1249.8) rotate(-90)" textLength="137.8" lengthAdjust="spacingAndGlyphs">Spark Blue 550-A | CD8</text>
<!-- J6 -->
<g>
<ellipse cx="803" cy="1218" rx="30" ry="12" fill="url(#gSR)" filter="url(#sp2)"/>
<ellipse cx="834" cy="1218" rx="22" ry="17" fill="url(#gRed)" filter="url(#sp)"/>
<ellipse cx="834" cy="1218" rx="13" ry="10" fill="#c41414" opacity="0.35"/>
</g>
<rect x="737.2" y="1172.7" width="156.8" height="157.1" fill="none" stroke="#333" stroke-width="0.9"/>
<line x1="735.2" y1="1177" x2="735.2" y2="1325" stroke="#444" stroke-width="4" stroke-dasharray="0.45 2.4"/>
<line x1="740" y1="1332.2" x2="893" y2="1332.2" stroke="#444" stroke-width="4.8" stroke-dasharray="0.5 3"/>
<rect x="730.1" y="1266.2" width="6.1" height="4.8" fill="#111"/>
<rect x="760.2" y="1329.8" width="6.7" height="5.5" fill="#111"/>
<rect x="808.1" y="1191.4" width="76.7" height="57.5" fill="none" stroke="#000" stroke-width="1.6"/>
<text class="m jt" x="817.2" y="1168.7" textLength="134.2" lengthAdjust="spacingAndGlyphs">P4 infusion Product.fcs</text>
<text class="m gt" x="846.5" y="1270.4">KI67</text>
<text class="m gt" x="846.5" y="1282">88.8%</text>
<text class="t8 e" x="731" y="1195.8">10<tspan dy="-3.2" font-size="5.5">6</tspan></text>
<text class="t8 e" x="731" y="1224.8">10<tspan dy="-3.2" font-size="5.5">5</tspan></text>
<text class="t8 e" x="731" y="1254.8">10<tspan dy="-3.2" font-size="5.5">4</tspan></text>
<text class="t8 e" x="728.5" y="1270.8">0</text>
<text class="t8 e" x="731" y="1288.8">-10<tspan dy="-3.2" font-size="5.5">4</tspan></text>
<text class="t8 e" x="731" y="1317.8">-10<tspan dy="-3.2" font-size="5.5">5</tspan></text>
<text class="t8 m" x="739.6" y="1347.5">-10<tspan dy="-3.2" font-size="5.5">4</tspan></text>
<text class="t8 m" x="764.5" y="1347.5">0</text>
<text class="t8 m" x="786.1" y="1347.5">10<tspan dy="-3.2" font-size="5.5">4</tspan></text>
<text class="t8 m" x="827.3" y="1347.5">10<tspan dy="-3.2" font-size="5.5">5</tspan></text>
<text class="t8 m" x="867.6" y="1347.5">10<tspan dy="-3.2" font-size="5.5">6</tspan></text>
<text class="m jt" x="816.3" y="1369.3" textLength="144.8" lengthAdjust="spacingAndGlyphs">Alexa Fluor 700-A | KI67</text>
<text class="m ayt" transform="translate(704.8,1249.8) rotate(-90)" textLength="137.8" lengthAdjust="spacingAndGlyphs">Spark Blue 550-A | CD8</text>

<!-- ================= K ================= -->
<text x="-1" y="1415.6" font-size="35" textLength="21" lengthAdjust="spacingAndGlyphs">K</text>
<rect x="62.5" y="1436.8" width="76.6" height="16" fill="url(#lgK)"/>
<text x="62.5" y="1479.3" font-size="8.5" font-weight="bold" fill="#333" textLength="27.9" lengthAdjust="spacingAndGlyphs">288.04</text>
<line x1="62.5" y1="1486.9" x2="334.3" y2="1486.9" stroke="#333" stroke-width="1.2"/>
<g stroke="#333" stroke-width="0.9">
<line x1="80.2" y1="1484.7" x2="80.2" y2="1489.1"/><line x1="103" y1="1484.7" x2="103" y2="1489.1"/><line x1="126.1" y1="1484.7" x2="126.1" y2="1489.1"/><line x1="148.9" y1="1484.7" x2="148.9" y2="1489.1"/><line x1="172" y1="1484.7" x2="172" y2="1489.1"/><line x1="195.2" y1="1484.7" x2="195.2" y2="1489.1"/><line x1="217.9" y1="1484.7" x2="217.9" y2="1489.1"/><line x1="241" y1="1484.7" x2="241" y2="1489.1"/><line x1="264.2" y1="1484.7" x2="264.2" y2="1489.1"/><line x1="287.3" y1="1484.7" x2="287.3" y2="1489.1"/><line x1="310.1" y1="1484.7" x2="310.1" y2="1489.1"/>
</g>
<circle cx="333.2" cy="1486.9" r="1.8" fill="#333"/>
<path d="M359.6,1504.8 H91.4 V1533.7 H324.5 M324.5,1524.5 V1543.4 M324.5,1524.5 H359.6 M324.5,1543.4 H359.6" fill="none" stroke="#9a9a9a" stroke-width="1.2"/>
<!-- heatmap cells -->
<g>
<rect x="363.2" y="1495.6" width="622.1" height="57.2" fill="#eef7ec"/>
<!-- row 1: Healthy Donor -->
<rect x="860.8" y="1495.6" width="41.5" height="19.1" fill="#6daf7f"/>
<rect x="943.8" y="1495.6" width="41.5" height="19.1" fill="#2c8b48"/>
<!-- row 2: P1 -->
<rect x="363.2" y="1514.7" width="165.9" height="19.1" fill="#2c8b48"/>
<rect x="446.1" y="1514.7" width="41.5" height="19.1" fill="#41975a"/>
<rect x="529.1" y="1514.7" width="248.8" height="19.1" fill="#2c8b48"/>
<rect x="777.9" y="1514.7" width="41.5" height="19.1" fill="#4c9d63"/>
<rect x="819.4" y="1514.7" width="41.5" height="19.1" fill="#69ad7b"/>
<rect x="902.3" y="1514.7" width="41.5" height="19.1" fill="#b8d9be"/>
<!-- row 3: P4 -->
<rect x="363.2" y="1533.8" width="124.4" height="19.1" fill="#308d4c"/>
<rect x="446.1" y="1533.8" width="41.5" height="19.1" fill="#2c8b48"/>
<rect x="487.6" y="1533.8" width="41.5" height="19.1" fill="#3d9557"/>
<rect x="529.1" y="1533.8" width="41.5" height="19.1" fill="#70b181"/>
<rect x="570.6" y="1533.8" width="124.4" height="19.1" fill="#2e8c4a"/>
<rect x="695" y="1533.8" width="41.5" height="19.1" fill="#9bc9a6"/>
<rect x="736.4" y="1533.8" width="41.5" height="19.1" fill="#61a975"/>
<rect x="777.9" y="1533.8" width="165.9" height="19.1" fill="#2c8b48"/>
<rect x="943.8" y="1533.8" width="41.5" height="19.1" fill="#ecf6ea"/>
</g>
<!-- column labels -->
<g class="ch">
<text transform="translate(395.9,1480.2) rotate(-90)" textLength="59.4" lengthAdjust="spacingAndGlyphs">HLA-DR</text>
<text transform="translate(437.4,1480.2) rotate(-90)" textLength="39.5" lengthAdjust="spacingAndGlyphs">CD25</text>
<text transform="translate(478.9,1481.1) rotate(-90)" textLength="39.5" lengthAdjust="spacingAndGlyphs">CD38</text>
<text transform="translate(520.3,1481.1) rotate(-90)" textLength="35.6" lengthAdjust="spacingAndGlyphs">Ki-67</text>
<text transform="translate(561.8,1480.2) rotate(-90)" textLength="33.8" lengthAdjust="spacingAndGlyphs">PD-1</text>
<text transform="translate(603.3,1481.1) rotate(-90)" textLength="31.8" lengthAdjust="spacingAndGlyphs">TOX</text>
<text transform="translate(644.7,1481.7) rotate(-90)" textLength="34.3" lengthAdjust="spacingAndGlyphs">Tim3</text>
<text transform="translate(686.2,1481.1) rotate(-90)" textLength="39.5" lengthAdjust="spacingAndGlyphs">LAG3</text>
<text transform="translate(727.7,1482.1) rotate(-90)" textLength="39.5" lengthAdjust="spacingAndGlyphs">CD39</text>
<text transform="translate(769.1,1483) rotate(-90)" textLength="37.5" lengthAdjust="spacingAndGlyphs">TCF1</text>
<text transform="translate(810.6,1483.4) rotate(-90)" textLength="48.5" lengthAdjust="spacingAndGlyphs">CTLA4</text>
<text transform="translate(852.1,1483.6) rotate(-90)" textLength="39.1" lengthAdjust="spacingAndGlyphs">TIGIT</text>
<text transform="translate(893.5,1484.4) rotate(-90)" textLength="48.6" lengthAdjust="spacingAndGlyphs">Eomes</text>
<text transform="translate(935,1486.3) rotate(-90)" textLength="43.7" lengthAdjust="spacingAndGlyphs">4-1BB</text>
<text transform="translate(976.5,1486.3) rotate(-90)" textLength="49.5" lengthAdjust="spacingAndGlyphs">KLRG1</text>
</g>
<!-- values -->
<g class="cv">
<text x="383.9" y="1508.3">2.29</text><text x="425.4" y="1508.3">0</text><text x="466.9" y="1508.3">20.8</text><text x="508.3" y="1508.3">0.76</text><text x="549.8" y="1508.3">15.4</text><text x="591.3" y="1508.3">39.1</text><text x="632.7" y="1508.3">0.55</text><text x="674.2" y="1508.3">0.22</text><text x="715.7" y="1508.3">3.82</text><text x="757.1" y="1508.3">9.49</text><text x="798.6" y="1508.3">0.11</text><text x="840.1" y="1508.3">0.11</text><text x="881.5" y="1508.3">18.6</text><text x="923" y="1508.3">0.65</text><text x="964.5" y="1508.3">72.3</text>
<text x="383.9" y="1527.6">88.1</text><text x="425.4" y="1527.6">97.1</text><text x="466.9" y="1527.6">85.8</text><text x="508.3" y="1527.6">97.4</text><text x="549.8" y="1527.6">17.4</text><text x="591.3" y="1527.6">98.2</text><text x="632.7" y="1527.6">98.4</text><text x="674.2" y="1527.6">99.3</text><text x="715.7" y="1527.6">55.7</text><text x="757.1" y="1527.6">49.3</text><text x="798.6" y="1527.6">39.6</text><text x="840.1" y="1527.6">14</text><text x="881.5" y="1527.6">14.6</text><text x="923" y="1527.6">4.35</text><text x="964.5" y="1527.6">0.86</text>
<text x="383.9" y="1546.6">86.2</text><text x="425.4" y="1546.6">95.1</text><text x="466.9" y="1546.6">93.9</text><text x="508.3" y="1546.6">88.8</text><text x="549.8" y="1546.6">16.7</text><text x="591.3" y="1546.6">96.8</text><text x="632.7" y="1546.6">98.5</text><text x="674.2" y="1546.6">97.5</text><text x="715.7" y="1546.6">26</text><text x="757.1" y="1546.6">38.4</text><text x="798.6" y="1546.6">47.5</text><text x="840.1" y="1546.6">20.3</text><text x="881.5" y="1546.6">20.6</text><text x="923" y="1546.6">13.8</text><text x="964.5" y="1546.6">1.36</text>
</g>
<text x="995.4" y="1510.5" font-size="15.5" fill="#000" textLength="102.7" lengthAdjust="spacingAndGlyphs">Healthy Donor</text>
<text x="993.3" y="1529.2" font-size="15.5" fill="#000" textLength="141" lengthAdjust="spacingAndGlyphs">P1 Infusion Product</text>
<text x="991.4" y="1548.5" font-size="15.5" fill="#000" textLength="141" lengthAdjust="spacingAndGlyphs">P4 Infusion Product</text>
</svg>
</body></html>
